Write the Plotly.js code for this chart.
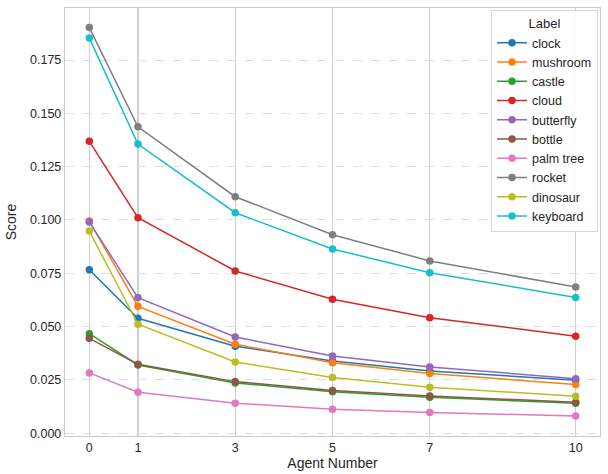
<!DOCTYPE html>
<html>
<head>
<meta charset="utf-8">
<script src="https://cdn.plot.ly/plotly-3.0.1.min.js"></script>
<style>html,body{margin:0;padding:0;background:#fff;}#chart{width:608px;height:474px;}</style>
</head>
<body>
<div id="chart"></div>
<script>
const agentNumbers = [0, 1, 3, 5, 7, 10];
const labels = ["clock", "mushroom", "castle", "cloud", "butterfly", "bottle", "palm tree", "rocket", "dinosaur", "keyboard"];
const clock     = [0.0767, 0.0539, 0.0408, 0.0339, 0.0292, 0.0248];
const mushroom  = [0.0995, 0.0595, 0.0417, 0.0331, 0.0280, 0.0228];
const castle    = [0.0467, 0.0320, 0.0236, 0.0195, 0.0169, 0.0141];
const cloud     = [0.1369, 0.1011, 0.0761, 0.0628, 0.0542, 0.0455];
const butterfly = [0.0990, 0.0636, 0.0451, 0.0362, 0.0311, 0.0256];
const bottle    = [0.0445, 0.0323, 0.0242, 0.0200, 0.0175, 0.0145];
const palmTree  = [0.0283, 0.0192, 0.0141, 0.0112, 0.0097, 0.0081];
const rocket    = [0.1902, 0.1437, 0.1109, 0.0931, 0.0808, 0.0686];
const dinosaur  = [0.0948, 0.0511, 0.0334, 0.0261, 0.0216, 0.0173];
const keyboard  = [0.1853, 0.1356, 0.1034, 0.0864, 0.0753, 0.0637];
const yTickVals = [0, 0.025, 0.05, 0.075, 0.1, 0.125, 0.15, 0.175];
const series = [clock, mushroom, castle, cloud, butterfly, bottle, palmTree, rocket, dinosaur, keyboard];
const colors = ["#1f77b4","#ff7f0e","#2ca02c","#d62728","#9467bd","#8c564b","#e377c2","#7f7f7f","#bcbd22","#17becf"];

const traces = series.map((ys, i) => ({
  x: agentNumbers, y: ys, name: labels[i], type: "scatter", mode: "lines+markers",
  line: {color: colors[i], width: 1.5},
  marker: {color: colors[i], size: 7.5}
}));

const font = "Liberation Sans, Arial, sans-serif";
const layout = {
  width: 608, height: 474,
  margin: {l: 65, r: 8, t: 8, b: 38},
  paper_bgcolor: "#fff", plot_bgcolor: "#fff",
  font: {family: font, size: 12, color: "#262626"},
  showlegend: true,
  legend: {
    x: 0.9963, xanchor: "right", y: 0.995, yanchor: "top",
    bgcolor: "rgba(255,255,255,0.9)", bordercolor: "#d6d6d6", borderwidth: 1,
    font: {family: font, size: 12.5, color: "#262626"},
    title: {text: "Label", side: "top center", font: {family: font, size: 13, color: "#262626"}},
    tracegroupgap: 0
  },
  xaxis: {
    range: [-0.5, 10.5], tickvals: agentNumbers, ticktext: agentNumbers.map(String),
    showgrid: true, gridcolor: "#cfcfcf", gridwidth: 1.1, griddash: "solid",
    zeroline: false, showline: true, mirror: true, linecolor: "#cccccc", linewidth: 1.2,
    ticks: "", tickfont: {size: 12.5, color: "#262626"},
    title: {text: "Agent Number", font: {size: 14, color: "#262626"}, standoff: 4}
  },
  yaxis: {
    range: [-0.0013, 0.1994], tickvals: yTickVals, tickformat: ".3f",
    showgrid: true, gridcolor: "#dddddd", gridwidth: 1, griddash: "dash",
    zeroline: false, showline: true, mirror: true, linecolor: "#cccccc", linewidth: 1.2,
    ticks: "", tickfont: {size: 12.5, color: "#262626"},
    title: {text: "Score", font: {size: 14, color: "#262626"}, standoff: 10}
  }
};
Plotly.newPlot("chart", traces, layout, {displayModeBar: false, staticPlot: true});
</script>
</body>
</html>
